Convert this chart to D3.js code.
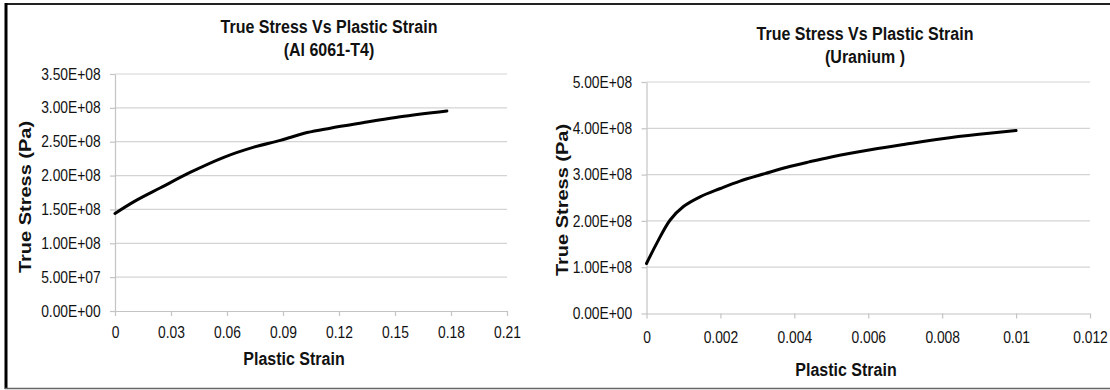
<!DOCTYPE html>
<html>
<head>
<meta charset="utf-8">
<script src="https://cdn.jsdelivr.net/npm/d3@7"></script>
<style>
  html, body { margin: 0; padding: 0; background: #fff; }
  svg { display: block; font-family: "Liberation Sans", Arial, sans-serif; }
</style>
</head>
<body>
<svg id="chart" width="1110" height="390"></svg>
<script>
// ---------- data ----------
const alStrain = [0, 0.0102, 0.0244, 0.0405, 0.0583, 0.0744, 0.0886, 0.1029, 0.1153, 0.135, 0.1528, 0.1778];
const alStress = [1.44e8, 1.615e8, 1.82e8, 2.05e8, 2.27e8, 2.42e8, 2.52e8, 2.635e8, 2.70e8, 2.79e8, 2.87e8, 2.955e8];

const uStrain = [0, 0.00028, 0.00064, 0.001, 0.00145, 0.002, 0.00253, 0.0032, 0.0038, 0.0044, 0.005, 0.0061, 0.007, 0.008, 0.009, 0.01];
const uStress = [1.08e8, 1.52e8, 2.02e8, 2.31e8, 2.52e8, 2.70e8, 2.86e8, 3.02e8, 3.16e8, 3.275e8, 3.38e8, 3.54e8, 3.655e8, 3.775e8, 3.87e8, 3.95e8];

const alXTicks = [0, 0.03, 0.06, 0.09, 0.12, 0.15, 0.18, 0.21];
const alXLabels = ["0", "0.03", "0.06", "0.09", "0.12", "0.15", "0.18", "0.21"];
const alYTicks = [0, 5e7, 1e8, 1.5e8, 2e8, 2.5e8, 3e8, 3.5e8];
const alYLabels = ["0.00E+00", "5.00E+07", "1.00E+08", "1.50E+08", "2.00E+08", "2.50E+08", "3.00E+08", "3.50E+08"];

const uXTicks = [0, 0.002, 0.004, 0.006, 0.008, 0.01, 0.012];
const uXLabels = ["0", "0.002", "0.004", "0.006", "0.008", "0.01", "0.012"];
const uYTicks = [0, 1e8, 2e8, 3e8, 4e8, 5e8];
const uYLabels = ["0.00E+00", "1.00E+08", "2.00E+08", "3.00E+08", "4.00E+08", "5.00E+08"];

const titles = [["True Stress Vs Plastic Strain", "(Al 6061-T4)"], ["True Stress Vs Plastic Strain", "(Uranium )"]];
const xTitle = "Plastic Strain";
const yTitle = "True Stress (Pa)";

// ---------- drawing ----------
const SX = 0.865; // horizontal squeeze of the lettering
const svg = d3.select("#chart");

// frame
svg.append("line").attr("x1", 5).attr("x2", 1110).attr("y1", 4).attr("y2", 4)
  .attr("stroke", "#222").attr("stroke-width", 2);
svg.append("line").attr("x1", 6).attr("x2", 6).attr("y1", 3).attr("y2", 389)
  .attr("stroke", "#000").attr("stroke-width", 3);
svg.append("line").attr("x1", 5).attr("x2", 1110).attr("y1", 388.5).attr("y2", 388.5)
  .attr("stroke", "#666").attr("stroke-width", 1.5);

function squeezedText(parent, x, y, str, size, bold) {
  return parent.append("text")
    .attr("transform", `translate(${x},${y}) scale(${SX},1)`)
    .attr("text-anchor", "middle")
    .attr("font-weight", bold ? "bold" : "normal")
    .attr("font-size", size).attr("fill", "#111").text(str);
}

function panel(cfg) {
  const x = d3.scaleLinear().domain(cfg.xDomain).range([cfg.x0, cfg.x1]);
  const y = d3.scaleLinear().domain(cfg.yDomain).range([cfg.y0, cfg.y1]);
  const g = svg.append("g");

  // gridlines
  g.selectAll(".grid").data(cfg.yTicks.slice(1)).enter().append("line")
    .attr("x1", cfg.x0).attr("x2", cfg.x1)
    .attr("y1", d => y(d)).attr("y2", d => y(d))
    .attr("stroke", "#d4d4d4").attr("stroke-width", 1.2);

  // y axis
  const yAxis = d3.axisLeft(y).tickValues(cfg.yTicks)
    .tickFormat((d, i) => cfg.yLabels[i]).tickSizeInner(5).tickSizeOuter(0).tickPadding(9);
  const ya = g.append("g").attr("transform", `translate(${cfg.x0},0)`).call(yAxis);
  ya.selectAll(".tick text").attr("x", -14.3 / SX).attr("transform", `scale(${SX},1)`);

  // x axis
  const xAxis = d3.axisBottom(x).tickValues(cfg.xTicks)
    .tickFormat((d, i) => cfg.xLabels[i]).tickSizeInner(5).tickSizeOuter(0).tickPadding(cfg.xPad);
  const xa = g.append("g").attr("transform", `translate(0,${cfg.y0})`).call(xAxis);
  xa.selectAll(".tick text").attr("transform", `scale(${SX},1)`);

  [ya, xa].forEach(a => {
    a.select(".domain").attr("stroke", "#c4c4c4").attr("stroke-width", 1.2);
    a.selectAll(".tick line").attr("stroke", "#c4c4c4").attr("stroke-width", 1.2);
    a.selectAll(".tick text").attr("fill", "#111").style("font-size", "16px")
      .style("font-family", "'Liberation Sans', Arial, sans-serif");
  });

  // curve
  const pts = cfg.xs.map((v, i) => [v, cfg.ys[i]]);
  g.append("path").datum(pts)
    .attr("d", d3.line().x(d => x(d[0])).y(d => y(d[1])).curve(d3.curveCatmullRom.alpha(0.5)))
    .attr("fill", "none").attr("stroke", "#000").attr("stroke-width", 3)
    .attr("stroke-linecap", "round");

  // title
  squeezedText(g, cfg.titleX, cfg.titleY, cfg.title[0], 18.5, true);
  squeezedText(g, cfg.titleX, cfg.titleY + 23.5, cfg.title[1], 18.5, true);

  // axis titles
  squeezedText(g, cfg.xTitleX, cfg.xTitleY, xTitle, 18.5, true);
  g.append("text")
    .attr("transform", `translate(${cfg.yTitleX},${cfg.yTitleY}) scale(${SX},1) rotate(-90)`)
    .attr("text-anchor", "middle").attr("font-weight", "bold").attr("font-size", 20)
    .attr("fill", "#111").text(yTitle);
}

panel({
  xDomain: [0, 0.21], yDomain: [0, 3.5e8],
  x0: 115, x1: 507, y0: 311, y1: 74, xPad: 11,
  xTicks: alXTicks, xLabels: alXLabels, yTicks: alYTicks, yLabels: alYLabels,
  xs: alStrain, ys: alStress, title: titles[0],
  titleX: 329, titleY: 32.5, xTitleX: 294, xTitleY: 365, yTitleX: 31, yTitleY: 197
});

panel({
  xDomain: [0, 0.012], yDomain: [0, 5e8],
  x0: 646.5, x1: 1090, y0: 313.5, y1: 82, xPad: 12.8,
  xTicks: uXTicks, xLabels: uXLabels, yTicks: uYTicks, yLabels: uYLabels,
  xs: uStrain, ys: uStress, title: titles[1],
  titleX: 865, titleY: 39.5, xTitleX: 846, xTitleY: 375.5, yTitleX: 568, yTitleY: 200
});
</script>
</body>
</html>
